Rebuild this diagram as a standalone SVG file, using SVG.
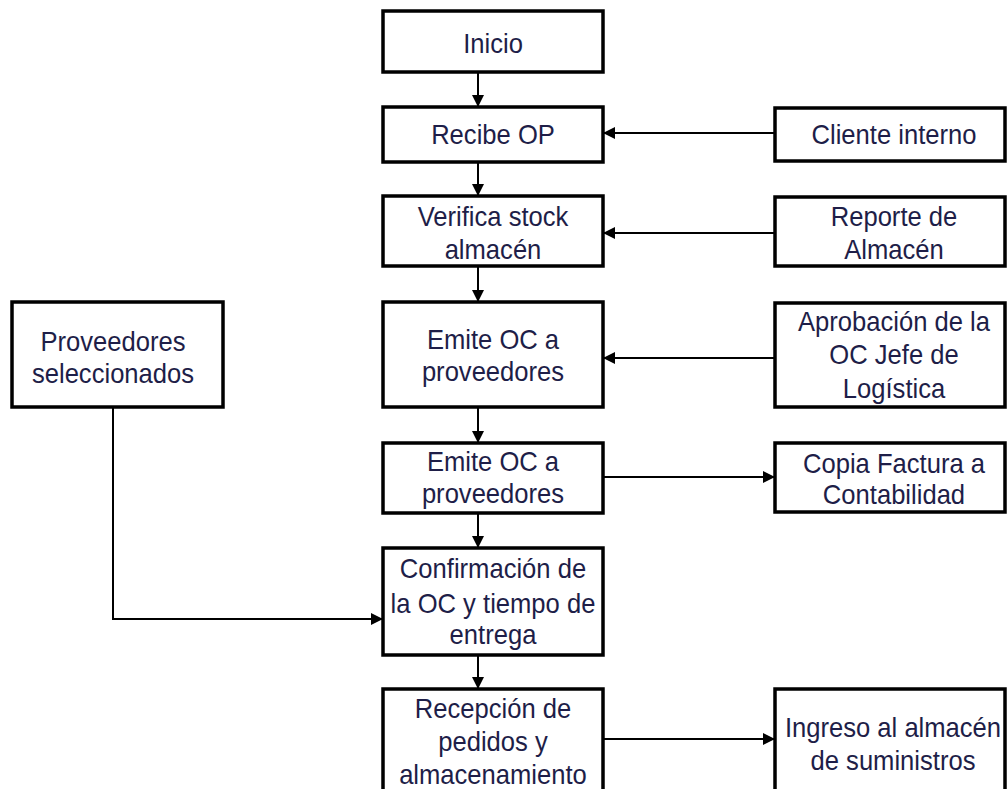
<svg xmlns="http://www.w3.org/2000/svg" width="1008" height="789" viewBox="0 0 1008 789">
<style>
.box{fill:#fff;stroke:#000;stroke-width:3.5}
.t{font-family:"Liberation Sans",Arial,sans-serif;font-size:25.6px;fill:#1e1e48;text-anchor:middle;transform-box:fill-box;transform-origin:center;transform:scaleY(1.08)}
.c{fill:none;stroke:#000;stroke-width:2}
</style>
<defs>
<marker id="ah" viewBox="0 0 12 12" refX="12" refY="6" markerWidth="12" markerHeight="12" markerUnits="userSpaceOnUse" orient="auto">
<path d="M0,0 L12,6 L0,12 Z" fill="#000"/>
</marker>
</defs>
<rect width="1008" height="789" fill="#fff"/>
<g id="connectors">
<path class="c" d="M478,72 V107" marker-end="url(#ah)"/>
<path class="c" d="M478,162 V196" marker-end="url(#ah)"/>
<path class="c" d="M478,266 V302" marker-end="url(#ah)"/>
<path class="c" d="M478,407 V443" marker-end="url(#ah)"/>
<path class="c" d="M478,513 V548" marker-end="url(#ah)"/>
<path class="c" d="M478,655 V689" marker-end="url(#ah)"/>
<path class="c" d="M775,133 H603" marker-end="url(#ah)"/>
<path class="c" d="M775,233 H603" marker-end="url(#ah)"/>
<path class="c" d="M775,358 H603" marker-end="url(#ah)"/>
<path class="c" d="M603,477 H775" marker-end="url(#ah)"/>
<path class="c" d="M113,407 V619 H383" marker-end="url(#ah)"/>
<path class="c" d="M603,739 H775" marker-end="url(#ah)"/>
</g>
<g id="inicio"><rect class="box" x="383" y="11" width="220" height="61"/><text class="t" x="493" y="52">Inicio</text></g>
<g id="recibe"><rect class="box" x="383" y="107" width="220" height="55"/><text class="t" x="493" y="143">Recibe OP</text></g>
<g id="verifica"><rect class="box" x="383" y="196" width="220" height="70"/><text class="t" x="493" y="225">Verifica stock</text><text class="t" x="493" y="258">almacén</text></g>
<g id="emite1"><rect class="box" x="383" y="302" width="220" height="105"/><text class="t" x="493" y="348">Emite OC a</text><text class="t" x="493" y="380">proveedores</text></g>
<g id="emite2"><rect class="box" x="383" y="443" width="220" height="70"/><text class="t" x="493" y="470">Emite OC a</text><text class="t" x="493" y="502">proveedores</text></g>
<g id="confirmacion"><rect class="box" x="383" y="548" width="220" height="107"/><text class="t" x="493" y="577">Confirmación de</text><text class="t" x="493" y="612">la OC y tiempo de</text><text class="t" x="493" y="643">entrega</text></g>
<g id="recepcion"><rect class="box" x="383" y="689" width="220" height="120"/><text class="t" x="493" y="717">Recepción de</text><text class="t" x="493" y="750">pedidos y</text><text class="t" x="493" y="783">almacenamiento</text></g>
<g id="cliente"><rect class="box" x="775" y="108" width="230" height="53"/><text class="t" x="894" y="143">Cliente interno</text></g>
<g id="reporte"><rect class="box" x="775" y="197" width="230" height="69"/><text class="t" x="894" y="225">Reporte de</text><text class="t" x="894" y="258">Almacén</text></g>
<g id="aprobacion"><rect class="box" x="775" y="303" width="230" height="104"/><text class="t" x="894" y="330">Aprobación de la</text><text class="t" x="894" y="363">OC Jefe de</text><text class="t" x="894" y="397">Logística</text></g>
<g id="copia"><rect class="box" x="775" y="443" width="230" height="69"/><text class="t" x="894" y="472">Copia Factura a</text><text class="t" x="894" y="503">Contabilidad</text></g>
<g id="ingreso"><rect class="box" x="775" y="689" width="230" height="120"/><text class="t" x="893" y="736">Ingreso al almacén</text><text class="t" x="893" y="769">de suministros</text></g>
<g id="proveedores"><rect class="box" x="12" y="302" width="211" height="105"/><text class="t" x="113" y="350">Proveedores</text><text class="t" x="113" y="382">seleccionados</text></g>
</svg>
